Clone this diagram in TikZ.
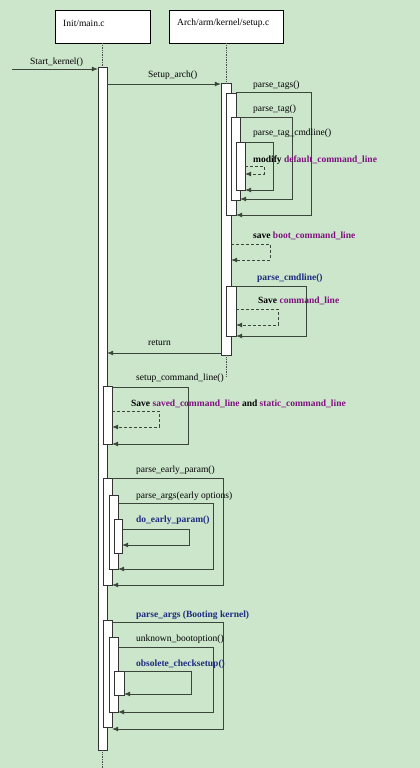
\documentclass[tikz,border=0pt]{standalone}
\usepackage{fontspec}
\setmainfont{Liberation Serif}
\usetikzlibrary{arrows.meta}
\definecolor{bgGreen}{HTML}{CCE6CC}
\definecolor{fnBlue}{HTML}{1C2A80}
\definecolor{varPurple}{HTML}{80107F}
\definecolor{lineGray}{HTML}{3A463A}
\tikzset{
  unitbox/.style = {draw = black, fill = white, anchor = north west, inner sep = 0pt, minimum height = 33pt},
  actbar/.style = {draw = black!80, fill = white, anchor = north, inner sep = 0pt, minimum width = 9pt},
  msglabel/.style = {anchor = west, inner sep = 0pt, font = \fontsize{9.5}{11}\selectfont},
  callline/.style = {draw = lineGray, line width = 0.7pt, -{Latex[length=6pt, width=5pt]}},
  backline/.style = {callline, dash pattern = on 3pt off 2pt},
  lifeline/.style = {draw = black!70, line width = 0.7pt, densely dotted}
}
\newcommand{\funcname}[1]{\textcolor{fnBlue}{\textbf{#1}}}
\newcommand{\varname}[1]{\textcolor{varPurple}{\textbf{#1}}}

\begin{document}
\begin{tikzpicture}[x=1pt, y=-1pt]
    \useasboundingbox[fill = bgGreen] (0,0) rectangle (420,768);
    % the two source files
    \node [unitbox, minimum width = 95pt] (mainunit) at (55,10) {};
    \node [unitbox, minimum width = 114pt] (archunit) at (169,10) {};
    \node [msglabel] (mainname) at ([xshift = 8pt, yshift = -13pt]mainunit.north west) {Init/main.c};
    \node [msglabel] (archname) at ([xshift = 8pt, yshift = -13pt]archunit.north west) {Arch/arm/kernel/setup.c};
    % activation bars
    \node [actbar, minimum height = 683pt] (mainbar) at (102.5,67) {};
    \node [actbar, minimum width = 10pt, minimum height = 272pt] (archbar) at (226,83) {};
    \node [actbar, minimum width = 10pt, minimum height = 122pt] (tagsbar) at (231,93) {};
    \node [actbar, minimum height = 83pt] (tagbar) at (235.5,117) {};
    \node [actbar, minimum height = 48pt] (cmdlinebar) at (240.5,142) {};
    \node [actbar, minimum width = 10pt, minimum height = 50pt] (parsebar) at (231,286) {};
    \node [actbar, minimum height = 58pt] (setupbar) at (107.5,386) {};
    \node [actbar, minimum height = 107pt] (earlybar) at (107.5,478) {};
    \node [actbar, minimum height = 74pt] (argsbar) at (113.5,495) {};
    \node [actbar, minimum width = 8pt, minimum height = 34pt] (doearlybar) at (118,519) {};
    \node [actbar, minimum height = 107pt] (bootbar) at (107.5,620) {};
    \node [actbar, minimum height = 75pt] (unknownbar) at (113.5,637) {};
    \node [actbar, minimum width = 10pt, minimum height = 24pt] (obsoletebar) at (119,671) {};
    % lifelines
    \coordinate (mainend) at (102.5,768);
    \coordinate (archend) at (226,376);
    \draw [lifeline] (mainunit.south -| mainbar) -- (mainbar.north);
    \draw [lifeline] (mainbar.south) -- (mainend);
    \draw [lifeline] (archunit.south -| archbar) -- (archbar.north);
    \draw [lifeline] (archbar.south) -- (archend);
    % messages between the files
    \coordinate (kernelin) at (12,69);
    \draw [callline] (kernelin) -- (mainbar.west |- kernelin);
    \draw [callline] (mainbar.east |- 0,84) -- (archbar.west |- 0,84);
    \draw [callline] (archbar.west |- 0,353) -- (mainbar.east |- 0,353);
    % self calls
    \foreach \bar/\top/\right/\bottom in {tagsbar/92/311/215, tagbar/117/292/199, cmdlinebar/142/273/190,
        parsebar/286/306/336, setupbar/387/188/444, earlybar/478/223/585, argsbar/503/213/569,
        doearlybar/529/189/545, bootbar/622/223/729, unknownbar/647/213/712, obsoletebar/671/191/694}
        \draw [callline] (\bar.east |- 0,\top) -| (\right,\bottom) -- (\bar.east |- 0,\bottom);
    % local updates
    \foreach \bar/\top/\right/\bottom in {cmdlinebar/166/264/174, archbar/244/270/260,
        parsebar/309/278/325, setupbar/411/159/427}
        \draw [backline] (\bar.east |- 0,\top) -| (\right,\bottom) -- (\bar.east |- 0,\bottom);
    % labels
    \node [msglabel] (kernellbl) at (30,62) {Start\_kernel()};
    \node [msglabel] (archlbl) at (148,75) {Setup\_arch()};
    \node [msglabel] (tagslbl) at (253,85) {parse\_tags()};
    \node [msglabel] (taglbl) at (253,109) {parse\_tag()};
    \node [msglabel] (cmdlinelbl) at (253,133) {parse\_tag\_cmdline()};
    \node [msglabel] (modifylbl) at (253,160) {\textbf{modify} \varname{default\_command\_line}};
    \node [msglabel] (bootlbl) at (253,236) {\textbf{save} \varname{boot\_command\_line}};
    \node [msglabel] (parselbl) at (257,278) {\funcname{parse\_cmdline()}};
    \node [msglabel] (savelbl) at (258,301) {\textbf{Save} \varname{command\_line}};
    \node [msglabel] (returnlbl) at (148,343) {return};
    \node [msglabel] (setuplbl) at (136,378) {setup\_command\_line()};
    \node [msglabel] (savedlbl) at (131,404) {\textbf{Save} \varname{saved\_command\_line} \textbf{and} \varname{static\_command\_line}};
    \node [msglabel] (earlylbl) at (136,470) {parse\_early\_param()};
    \node [msglabel] (argslbl) at (136,496) {parse\_args(early options)};
    \node [msglabel] (doearlylbl) at (136,520) {\funcname{do\_early\_param()}};
    \node [msglabel] (bootargslbl) at (136,615) {\funcname{parse\_args (Booting kernel)}};
    \node [msglabel] (unknownlbl) at (136,639) {unknown\_bootoption()};
    \node [msglabel] (obsoletelbl) at (136,664) {\funcname{obsolete\_checksetup()}};
\end{tikzpicture}
\end{document}
